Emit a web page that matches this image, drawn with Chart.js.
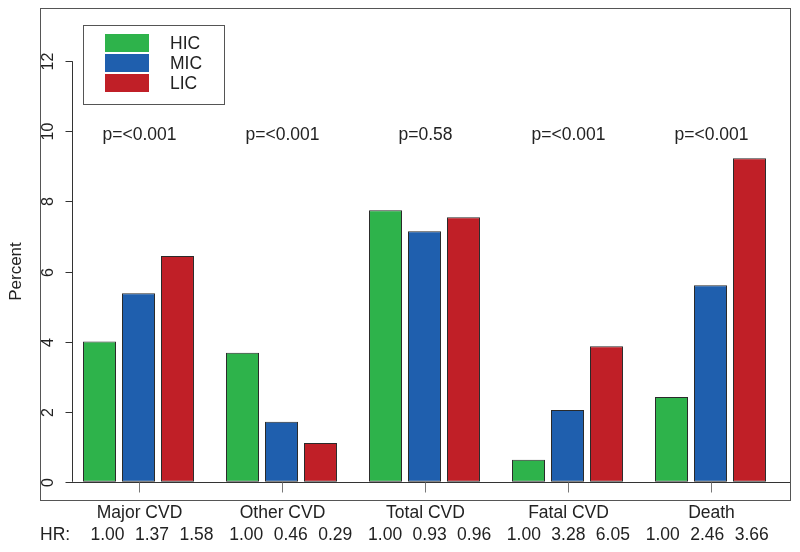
<!DOCTYPE html>
<html>
<head>
<meta charset="utf-8">
<script src="https://cdn.jsdelivr.net/npm/chart.js@4"></script>
<style>
  html, body { margin: 0; padding: 0; background: #fff; }
  #wrap { width: 800px; height: 552px; position: relative; }
</style>
</head>
<body>
<div id="wrap"><canvas id="chart"></canvas></div>
<script>
'use strict';

var categories = ['Major CVD', 'Other CVD', 'Total CVD', 'Fatal CVD', 'Death'];
var hicValues = [4.00, 3.68, 7.75, 0.63, 2.42];
var micValues = [5.38, 1.71, 7.15, 2.05, 5.61];
var licValues = [6.44, 1.11, 7.55, 3.87, 9.23];
var pValues = ['p=<0.001', 'p=<0.001', 'p=0.58', 'p=<0.001', 'p=<0.001'];
var hrValues = [
    ['1.00', '1.37', '1.58'],
    ['1.00', '0.46', '0.29'],
    ['1.00', '0.93', '0.96'],
    ['1.00', '3.28', '6.05'],
    ['1.00', '2.46', '3.66']
];
var yTicks = [0, 2, 4, 6, 8, 10, 12];

var FONT = '"Liberation Sans", Arial, Helvetica, sans-serif';
var INK = '#222222';

// R style frame, axes, annotations
var rStyle = {
    id: 'rStyle',
    afterDraw: function(chart) {
        var ctx = chart.ctx;
        var area = chart.chartArea;
        var x = chart.scales.x;
        var y = chart.scales.y;
        ctx.save();

        // outer box
        ctx.strokeStyle = '#555';
        ctx.lineWidth = 1;
        ctx.strokeRect(40.5, area.top + 0.5, 750, area.bottom - area.top);

        // baseline
        var y0 = Math.round(y.getPixelForValue(0)) + 0.5;
        ctx.strokeStyle = '#333';
        ctx.beginPath();
        ctx.moveTo(72, y0);
        ctx.lineTo(790, y0);
        ctx.stroke();

        // y axis
        var axX = 72.5;
        ctx.beginPath();
        ctx.moveTo(axX, y.getPixelForValue(yTicks[0]));
        ctx.lineTo(axX, y.getPixelForValue(yTicks[yTicks.length - 1]));
        ctx.stroke();
        ctx.fillStyle = INK;
        ctx.font = '16px ' + FONT;
        ctx.textAlign = 'center';
        ctx.textBaseline = 'middle';
        yTicks.forEach(function(t) {
            var py = Math.round(y.getPixelForValue(t)) + 0.5;
            ctx.beginPath();
            ctx.moveTo(axX, py);
            ctx.lineTo(axX - 7, py);
            ctx.stroke();
            ctx.save();
            ctx.translate(49, py);
            ctx.rotate(-Math.PI / 2);
            ctx.fillText(String(t), 0, 0);
            ctx.restore();
        });

        // y title
        ctx.save();
        ctx.font = '17px ' + FONT;
        ctx.translate(16, y.getPixelForValue(6));
        ctx.rotate(-Math.PI / 2);
        ctx.fillText('Percent', 0, 0);
        ctx.restore();

        // category ticks and labels
        ctx.strokeStyle = '#777';
        ctx.font = '17.5px ' + FONT;
        categories.forEach(function(c, i) {
            var px = Math.round(x.getPixelForValue(i)) + 0.5;
            ctx.beginPath();
            ctx.moveTo(px, y0);
            ctx.lineTo(px, y0 + 10);
            ctx.stroke();
            ctx.fillText(c, px, 513);
            ctx.fillText(pValues[i], px, y.getPixelForValue(9.9));
        });

        // HR row
        ctx.textAlign = 'left';
        ctx.fillText('HR:', 40, 535);
        ctx.textAlign = 'center';
        var start = x.getPixelForValue(0) + 13.5;
        hrValues.forEach(function(trip, i) {
            var cx = start + i * 138.8;
            trip.forEach(function(v, j) {
                ctx.fillText(v, cx + (j - 1) * 44.5, 535);
            });
        });

        // legend
        ctx.strokeStyle = '#555';
        ctx.strokeRect(83.5, 25.5, 141, 79);
        ctx.textAlign = 'left';
        chart.data.datasets.forEach(function(d, k) {
            ctx.fillStyle = d.backgroundColor;
            ctx.fillRect(105, 34 + k * 20, 44, 18);
            ctx.fillStyle = INK;
            ctx.fillText(d.label, 170, 44 + k * 20);
        });

        ctx.restore();
    }
};

new Chart(document.getElementById('chart'), {
    type: 'bar',
    data: {
        labels: categories,
        datasets: [
            { label: 'HIC', data: hicValues, backgroundColor: '#2EB34B' },
            { label: 'MIC', data: micValues, backgroundColor: '#1F5FAE' },
            { label: 'LIC', data: licValues, backgroundColor: '#C01F27' }
        ].map(function(d) {
            d.borderColor = '#2a2a2a';
            d.borderWidth = 1;
            d.borderSkipped = false;
            d.categoryPercentage = 0.818;
            d.barPercentage = 0.846;
            return d;
        })
    },
    options: {
        responsive: true,
        maintainAspectRatio: false,
        animation: false,
        devicePixelRatio: 1,
        layout: { padding: { left: 67, right: 18, top: 8, bottom: 52 } },
        plugins: {
            legend: { display: false },
            tooltip: { enabled: false }
        },
        scales: {
            x: {
                display: false,
                offset: true,
                grid: { display: false }
            },
            y: {
                display: false,
                min: -0.52,
                max: 13.52,
                grid: { display: false }
            }
        }
    },
    plugins: [rStyle]
});
</script>
</body>
</html>
